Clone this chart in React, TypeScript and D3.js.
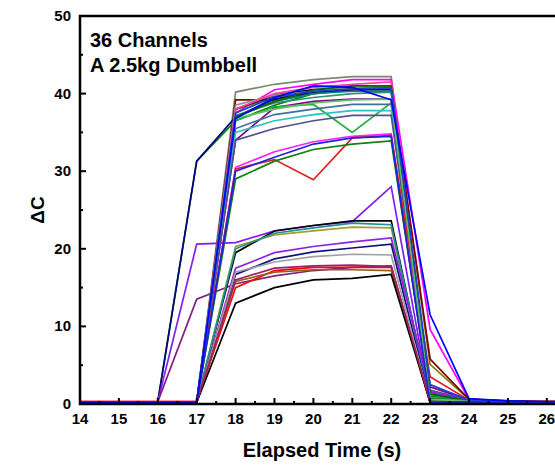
import React from "react";
import * as d3 from "d3";

const times = [14, 15, 16, 17, 18, 19, 20, 21, 22, 23, 24, 25, 26, 27];
const xTicks = [14, 15, 16, 17, 18, 19, 20, 21, 22, 23, 24, 25, 26];
const yTicks = [0, 10, 20, 30, 40, 50];
const annotation = ["36 Channels", "A 2.5kg Dumbbell"];

const channelColors = [
  "#7a8a70", "#ff00ff", "#808000", "#800000", "#008000",
  "#000080", "#008080", "#000000", "#800080", "#20b040", "#4070a0",
  "#30c0c0", "#505090", "#909090", "#ff40a0", "#309070",
  "#ff20ff", "#e02020", "#108010", "#8020f0", "#802080",
  "#000000", "#a0a030", "#209090", "#9020e0", "#101080", "#a0a0a0",
  "#ff0000", "#906020", "#000000", "#a02060", "#006400", "#60c060",
  "#2020e0", "#2040d0", "#0000ff",
];

const channelValues = [
  [0.2, 0.2, 0.2, 0.2, 40.2, 41.2, 41.8, 42.2, 42.2, 0.3, 0.4, 0.3, 0.2, 0.2],
  [0.2, 0.2, 0.2, 0.2, 37.5, 40.5, 41.2, 41.8, 41.8, 9.6, 0.6, 0.3, 0.3, 0.3],
  [0.2, 0.2, 0.2, 0.2, 38.0, 39.5, 40.2, 40.5, 40.5, 5.1, 0.6, 0.4, 0.3, 0.3],
  [0.1, 0.1, 0.1, 0.1, 39.2, 39.2, 40.0, 40.5, 40.7, 5.8, 0.6, 0.4, 0.3, 0.3],
  [0.2, 0.2, 0.3, 31.3, 36.5, 38.5, 40.0, 40.7, 40.8, 1.0, 0.5, 0.3, 0.2, 0.2],
  [0.2, 0.2, 0.3, 31.3, 37.0, 39.3, 40.2, 40.5, 40.5, 0.5, 0.4, 0.3, 0.2, 0.2],
  [0.2, 0.2, 0.2, 0.2, 37.0, 39.0, 40.0, 40.3, 40.3, 1.5, 0.5, 0.3, 0.2, 0.2],
  [0.2, 0.2, 0.2, 0.2, 38.0, 39.8, 40.5, 40.6, 40.6, 0.2, 0.3, 0.2, 0.2, 0.2],
  [0.2, 0.2, 0.2, 0.2, 34.0, 38.2, 39.0, 39.3, 39.3, 2.2, 0.5, 0.3, 0.2, 0.2],
  [0.2, 0.2, 0.2, 0.2, 36.5, 38.3, 38.6, 35.0, 38.8, 1.2, 0.4, 0.3, 0.2, 0.2],
  [0.2, 0.2, 0.2, 0.2, 35.5, 37.3, 38.0, 38.6, 38.6, 0.8, 0.4, 0.3, 0.2, 0.2],
  [0.2, 0.2, 0.2, 0.2, 35.0, 36.5, 37.3, 37.8, 37.8, 0.4, 0.3, 0.2, 0.2, 0.2],
  [0.2, 0.2, 0.2, 0.2, 34.0, 35.5, 36.5, 37.2, 37.2, 1.8, 0.5, 0.3, 0.2, 0.2],
  [0.2, 0.2, 0.2, 0.2, 38.5, 39.8, 40.3, 40.8, 41.0, 0.3, 0.3, 0.2, 0.2, 0.2],
  [0.2, 0.2, 0.2, 0.2, 38.0, 40.0, 40.8, 41.2, 41.5, 0.6, 0.4, 0.3, 0.2, 0.2],
  [0.2, 0.2, 0.2, 0.2, 37.2, 38.8, 39.5, 40.0, 40.2, 0.9, 0.4, 0.3, 0.2, 0.2],
  [0.2, 0.2, 0.2, 0.2, 30.5, 32.5, 33.8, 34.5, 34.8, 0.3, 0.3, 0.2, 0.2, 0.2],
  [0.3, 0.3, 0.3, 0.3, 30.3, 31.5, 28.9, 34.3, 34.6, 3.5, 0.5, 0.3, 0.3, 0.3],
  [0.2, 0.2, 0.2, 0.2, 29.0, 31.3, 32.8, 33.5, 33.9, 0.7, 0.4, 0.3, 0.2, 0.2],
  [0.2, 0.2, 0.3, 20.6, 20.8, 22.3, 23.0, 23.5, 28.0, 0.3, 0.3, 0.2, 0.2, 0.2],
  [0.2, 0.2, 0.3, 13.5, 15.5, 16.5, 17.2, 17.6, 17.8, 0.2, 0.3, 0.2, 0.2, 0.2],
  [0.2, 0.2, 0.2, 0.2, 19.5, 22.3, 23.0, 23.6, 23.6, 0.2, 0.3, 0.2, 0.2, 0.2],
  [0.2, 0.2, 0.2, 0.2, 20.3, 21.8, 22.3, 22.8, 22.7, 0.4, 0.3, 0.2, 0.2, 0.2],
  [0.2, 0.2, 0.2, 0.2, 20.0, 22.0, 22.7, 23.3, 23.1, 0.5, 0.3, 0.2, 0.2, 0.2],
  [0.2, 0.2, 0.2, 0.2, 17.5, 19.5, 20.3, 20.9, 21.4, 1.6, 0.4, 0.3, 0.2, 0.2],
  [0.2, 0.2, 0.2, 0.2, 16.7, 18.7, 19.6, 20.1, 20.6, 0.3, 0.3, 0.2, 0.2, 0.2],
  [0.2, 0.2, 0.2, 0.2, 17.0, 18.3, 19.0, 19.3, 19.2, 0.2, 0.3, 0.2, 0.2, 0.2],
  [0.3, 0.3, 0.3, 0.3, 15.0, 17.2, 17.6, 17.6, 17.6, 0.2, 0.3, 0.2, 0.2, 0.2],
  [0.2, 0.2, 0.2, 0.2, 15.8, 17.0, 17.3, 17.3, 17.2, 0.4, 0.3, 0.2, 0.2, 0.2],
  [0.2, 0.2, 0.2, 0.2, 13.0, 15.0, 16.0, 16.2, 16.7, 0.2, 0.3, 0.2, 0.2, 0.2],
  [0.2, 0.2, 0.2, 0.2, 16.0, 17.5, 17.8, 17.9, 17.7, 0.3, 0.3, 0.2, 0.2, 0.2],
  [0.2, 0.2, 0.2, 0.2, 37.0, 39.0, 40.5, 41.0, 41.0, 1.3, 0.4, 0.3, 0.2, 0.2],
  [0.2, 0.2, 0.2, 0.2, 36.8, 38.0, 38.8, 39.2, 39.3, 0.6, 0.4, 0.3, 0.2, 0.2],
  [0.2, 0.2, 0.2, 0.2, 30.0, 31.8, 33.5, 34.3, 34.5, 0.2, 0.3, 0.2, 0.2, 0.2],
  [0.2, 0.2, 0.2, 0.2, 37.5, 39.6, 40.3, 40.6, 40.7, 2.5, 0.5, 0.3, 0.2, 0.2],
  [0.2, 0.2, 0.2, 0.2, 36.8, 39.5, 41.0, 40.8, 39.2, 11.5, 0.7, 0.4, 0.3, 0.3],
];

const W = 555;
const H = 468;
const left = 80;
const top = 16;
const bottom = 404;

export default function App() {
  const x = d3.scaleLinear().domain([14, 27]).range([left, left + 13 * 38.9]);
  const y = d3.scaleLinear().domain([0, 50]).range([bottom, top]);
  const line = d3
    .line<number>()
    .x((_, i) => x(times[i]))
    .y((d) => y(d));
  const font = "Arial, 'Liberation Sans', sans-serif";
  const xMinor = d3.range(14.5, 27, 1);
  const yMinor = d3.range(5, 50, 10);
  const right = x(27);

  return (
    <svg width={W} height={H} style={{ position: "absolute", left: 0, top: 0 }}>
      <rect width={W} height={H} fill="#fff" />
      <g fill="none" strokeWidth={1.7} strokeLinejoin="miter">
        {channelValues.map((vals, i) => (
          <path key={i} d={line(vals) || ""} stroke={channelColors[i]} />
        ))}
      </g>
      <path
        d={`M${right},${top}H${left}V${bottom}H${right}`}
        fill="none"
        stroke="#000"
        strokeWidth={2.5}
      />
      {xTicks.map((t) => (
        <line key={"xt" + t} x1={x(t)} x2={x(t)} y1={bottom} y2={bottom - 6} stroke="#000" strokeWidth={2} />
      ))}
      {xMinor.map((t) => (
        <line key={"xm" + t} x1={x(t)} x2={x(t)} y1={bottom} y2={bottom - 3} stroke="#000" strokeWidth={2} />
      ))}
      {yTicks.map((t) => (
        <line key={"yt" + t} x1={left} x2={left + 6} y1={y(t)} y2={y(t)} stroke="#000" strokeWidth={2} />
      ))}
      {yMinor.map((t) => (
        <line key={"ym" + t} x1={left} x2={left + 3} y1={y(t)} y2={y(t)} stroke="#000" strokeWidth={2} />
      ))}
      <g fontFamily={font} fontWeight="bold" fontSize={15} fill="#000">
        {xTicks.map((t) => (
          <text key={"xl" + t} x={x(t)} y={bottom + 20} textAnchor="middle">
            {t}
          </text>
        ))}
        {yTicks.map((t) => (
          <text key={"yl" + t} x={left - 9} y={y(t) + 5} textAnchor="end">
            {t}
          </text>
        ))}
      </g>
      <text
        x={322}
        y={457}
        textAnchor="middle"
        fontFamily={font}
        fontWeight="bold"
        fontSize={20}
      >
        Elapsed Time (s)
      </text>
      <text
        transform={`translate(44,${(top + bottom) / 2}) rotate(-90)`}
        textAnchor="middle"
        fontFamily={font}
        fontWeight="bold"
        fontSize={19}
      >
        ΔC
      </text>
      <g fontFamily={font} fontWeight="bold" fontSize={20}>
        {annotation.map((s, i) => (
          <text key={s} x={90} y={47 + i * 25}>
            {s}
          </text>
        ))}
      </g>
    </svg>
  );
}
